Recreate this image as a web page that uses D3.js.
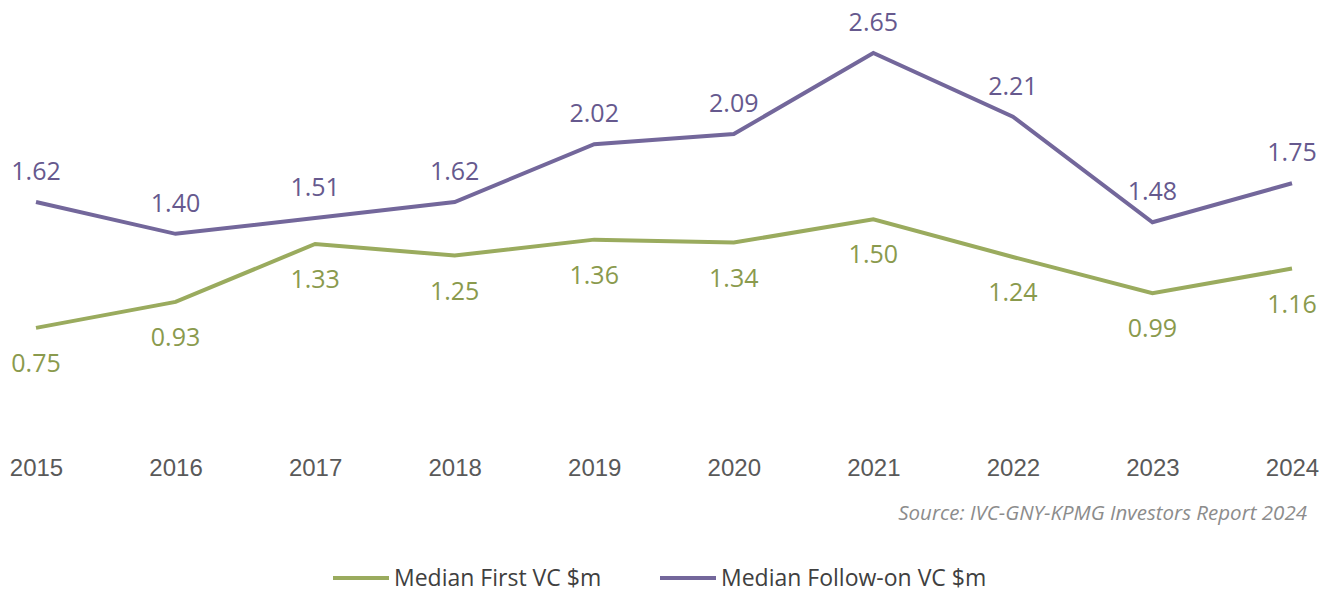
<!DOCTYPE html>
<html>
<head>
<meta charset="utf-8">
<script src="https://cdn.jsdelivr.net/npm/d3@7"></script>
<style>
  body { margin: 0; background: #fff; }
  svg { display: block; }
</style>
</head>
<body>
<div id="chart"></div>
<script>
// median deal size, first vs follow-on rounds

const years = ["2015", "2016", "2017", "2018", "2019", "2020", "2021", "2022", "2023", "2024"];
const firstVC = [0.75, 0.93, 1.33, 1.25, 1.36, 1.34, 1.50, 1.24, 0.99, 1.16];
const followOnVC = [1.62, 1.40, 1.51, 1.62, 2.02, 2.09, 2.65, 2.21, 1.48, 1.75];
const seriesNames = ["Median First VC $m", "Median Follow-on VC $m"];
const sourceText = "Source: IVC-GNY-KPMG Investors Report 2024";

const width = 1333, height = 592;
const colors = { first: "#9aab5e", follow: "#73679b" };
const labelColors = { first: "#8a9a4d", follow: "#66598e" };

const svg = d3.select("#chart").append("svg")
    .attr("width", width)
    .attr("height", height);

// scales
const x = d3.scalePoint()
    .domain(years)
    .range([36, 1292]);

const y = d3.scaleLinear()
    .domain([0, 2.65])
    .range([436.4, 53]);

// x axis labels (no line, no ticks)
const xAxis = d3.axisBottom(x).tickSize(0).tickPadding(0);
const gx = svg.append("g")
    .attr("transform", "translate(0,476)")
    .call(xAxis);
gx.select(".domain").remove();
gx.selectAll("text")
    .attr("dy", 0)
    .style("font-family", "'Liberation Sans', Arial, sans-serif")
    .style("font-size", "24px")
    .style("fill", "#595959");

const line = d3.line()
    .x((d, i) => x(years[i]))
    .y(d => y(d));

const series = [
    { values: firstVC, color: colors.first, text: labelColors.first, dy: 44 },
    { values: followOnVC, color: colors.follow, text: labelColors.follow, dy: -22 }
];

series.forEach(s => {
    svg.append("path")
        .attr("d", line(s.values))
        .attr("fill", "none")
        .attr("stroke", s.color)
        .attr("stroke-width", 4)
        .attr("stroke-linejoin", "miter");

    svg.append("g").selectAll("text")
        .data(s.values)
        .join("text")
        .attr("x", (d, i) => x(years[i]))
        .attr("y", d => y(d) + s.dy)
        .attr("text-anchor", "middle")
        .style("font-family", "'Open Sans', sans-serif")
        .style("font-size", "25px")
        .style("fill", s.text)
        .text(d => d.toFixed(2));
});

// source note
svg.append("text")
    .attr("x", 1307)
    .attr("y", 520)
    .attr("text-anchor", "end")
    .style("font-family", "'Open Sans', sans-serif")
    .style("font-style", "italic")
    .style("font-size", "20.5px")
    .style("fill", "#8c8c8c")
    .text(sourceText);

// legend
const legend = svg.append("g");
const legendItems = [
    { name: seriesNames[0], color: colors.first, x0: 333 },
    { name: seriesNames[1], color: colors.follow, x0: 660 }
];
legendItems.forEach(item => {
    legend.append("line")
        .attr("x1", item.x0)
        .attr("x2", item.x0 + 56)
        .attr("y1", 578)
        .attr("y2", 578)
        .attr("stroke", item.color)
        .attr("stroke-width", 4);
    legend.append("text")
        .attr("x", item.x0 + 61)
        .attr("y", 586)
        .style("font-family", "'Open Sans', sans-serif")
        .style("font-size", "23px")
        .style("fill", "#404040")
        .text(item.name);
});
</script>
</body>
</html>
